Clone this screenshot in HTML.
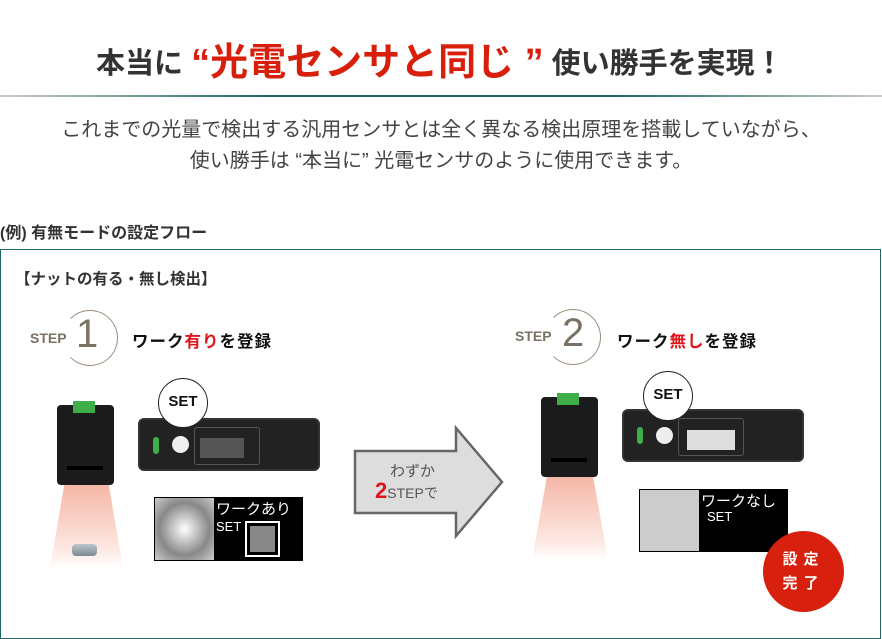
<!DOCTYPE html>
<html><head><meta charset="utf-8"><style>
*{margin:0;padding:0;box-sizing:border-box}
body{width:882px;height:625px;position:relative;overflow:hidden;background:#fff;font-family:"Liberation Sans","Noto Sans CJK JP",sans-serif;color:#333}
.a{position:absolute;white-space:nowrap}
.dev{position:absolute;background:#222;border-radius:6px;border:2px solid #333}
.head{position:absolute;background:#1b1b1b;border-radius:4px}
.beam{position:absolute;background:linear-gradient(#f5b5a5,#fde9e4 80%,#fff)}
.bub{position:absolute;width:50px;height:50px;border-radius:50%;border:1.5px solid #222;background:#fff;font-weight:bold;font-size:15px;text-align:center;line-height:46px;color:#111}
.scr{position:absolute;background:#000;color:#fff;font-size:14px}
</style></head><body>
<div class="a" style="left:96px;top:29px;font-size:29px;font-weight:bold;color:#333;letter-spacing:0px">本当に <span style="color:#d71f0c;font-size:38px;position:relative;top:2px">“光電センサと同じ ”</span> 使い勝手を実現！</div>
<div class="a" style="left:0;top:95px;width:882px;height:2px;background:linear-gradient(90deg,#ccc,#1d6a66 30%,#1d6a66 70%,#ccc)"></div>
<div class="a" style="left:0;top:115px;width:882px;text-align:center;font-size:20px;line-height:31px;color:#444">これまでの光量で検出する汎用センサとは全く異なる検出原理を搭載していながら、<br>使い勝手は “本当に” 光電センサのように使用できます。</div>
<div class="a" style="left:0;top:219px;font-size:16px;font-weight:bold;color:#333">(例) 有無モードの設定フロー</div>
<div class="a" style="left:0;top:249px;width:881px;height:390px;border:1px solid #1d6a66"></div>
<div class="a" style="left:15px;top:267px;font-size:15.5px;font-weight:bold;color:#333">【ナットの有る・無し検出】</div>

<div class="a" style="left:30px;top:330px;font-size:14px;font-weight:bold;color:#7a7264">STEP</div>
<div class="a" style="left:62px;top:310px;width:56px;height:56px;border-radius:50%;border:1px solid #9a8c7a;border-left-color:transparent"></div>
<div class="a" style="left:76px;top:312px;font-size:40px;color:#7a7264">1</div>
<div class="a" style="left:132px;top:328px;font-size:16.5px;font-weight:bold;color:#111;letter-spacing:1px">ワーク<span style="color:#e0141a">有り</span>を登録</div>
<div class="a" style="left:515px;top:328px;font-size:14px;font-weight:bold;color:#7a7264">STEP</div>
<div class="a" style="left:545px;top:309px;width:56px;height:56px;border-radius:50%;border:1px solid #9a8c7a;border-left-color:transparent"></div>
<div class="a" style="left:562px;top:311px;font-size:40px;color:#7a7264">2</div>
<div class="a" style="left:617px;top:328px;font-size:16.5px;font-weight:bold;color:#111;letter-spacing:1px">ワーク<span style="color:#e0141a">無し</span>を登録</div>

<div class="beam" style="left:50px;top:483px;width:73px;height:85px;clip-path:polygon(20% 0,80% 0,100% 100%,0 100%)"></div>
<div class="head" style="left:57px;top:405px;width:57px;height:80px"></div>
<div class="a" style="left:73px;top:401px;width:22px;height:12px;background:#3fae4a"></div>
<div class="a" style="left:67px;top:466px;width:36px;height:4px;background:#000"></div>
<div class="a" style="left:72px;top:544px;width:25px;height:12px;border-radius:4px;background:linear-gradient(#bcc6cc,#7d8a92)"></div>

<div class="beam" style="left:532px;top:475px;width:76px;height:85px;clip-path:polygon(20% 0,80% 0,100% 100%,0 100%)"></div>
<div class="head" style="left:541px;top:397px;width:57px;height:80px"></div>
<div class="a" style="left:557px;top:393px;width:22px;height:12px;background:#3fae4a"></div>
<div class="a" style="left:551px;top:458px;width:36px;height:4px;background:#000"></div>

<div class="dev" style="left:138px;top:418px;width:182px;height:53px"></div>
<div class="a" style="left:153px;top:437px;width:6px;height:17px;background:#3fae4a;border-radius:3px"></div>
<div class="a" style="left:172px;top:436px;width:17px;height:17px;border-radius:50%;background:#eee"></div>
<div class="a" style="left:194px;top:427px;width:66px;height:38px;border:1px solid #555;border-radius:3px"></div>
<div class="a" style="left:200px;top:438px;width:44px;height:20px;background:#555"></div>
<div class="bub" style="left:158px;top:378px">SET</div>

<div class="dev" style="left:622px;top:409px;width:182px;height:53px"></div>
<div class="a" style="left:637px;top:427px;width:6px;height:17px;background:#3fae4a;border-radius:3px"></div>
<div class="a" style="left:656px;top:427px;width:17px;height:17px;border-radius:50%;background:#eee"></div>
<div class="a" style="left:678px;top:418px;width:66px;height:38px;border:1px solid #555;border-radius:3px"></div>
<div class="a" style="left:687px;top:430px;width:48px;height:20px;background:#ddd"></div>
<div class="bub" style="left:643px;top:371px">SET</div>

<div class="scr" style="left:154px;top:497px;width:149px;height:64px">
 <div class="a" style="left:1px;top:1px;width:59px;height:62px;background:radial-gradient(#fff,#888 60%,#ccc)"></div>
 <div class="a" style="left:62px;top:1px;font-size:15px">ワークあり</div>
 <div class="a" style="left:62px;top:22px;font-size:13px">SET</div>
 <div class="a" style="left:91px;top:24px;width:35px;height:36px;border:2px solid #fff;background:#888;box-shadow:inset 0 0 0 3px #000"></div>
</div>
<div class="scr" style="left:639px;top:489px;width:149px;height:63px">
 <div class="a" style="left:1px;top:1px;width:59px;height:61px;background:#ccc"></div>
 <div class="a" style="left:62px;top:1px;font-size:15px">ワークなし</div>
 <div class="a" style="left:68px;top:20px;font-size:13px">SET</div>
</div>
<div class="a" style="left:763px;top:531px;width:81px;height:81px;border-radius:50%;background:#d7200e;color:#fff;font-weight:bold;font-size:15px;text-align:center;line-height:24px;padding-top:17px;letter-spacing:6px">設定<br>完了</div>

<svg class="a" style="left:350px;top:425px" width="160" height="115"><polygon points="5,26 106,26 106,3 152,57 106,111 106,88 5,88" fill="#ddd" stroke="#666" stroke-width="2.5"/></svg>
<div class="a" style="left:390px;top:460px;font-size:15px;color:#555">わずか</div>
<div class="a" style="left:375px;top:478px;font-size:14px;color:#555"><span style="color:#e0141a;font-size:22px;font-weight:bold">2</span>STEPで</div>
</body></html>
